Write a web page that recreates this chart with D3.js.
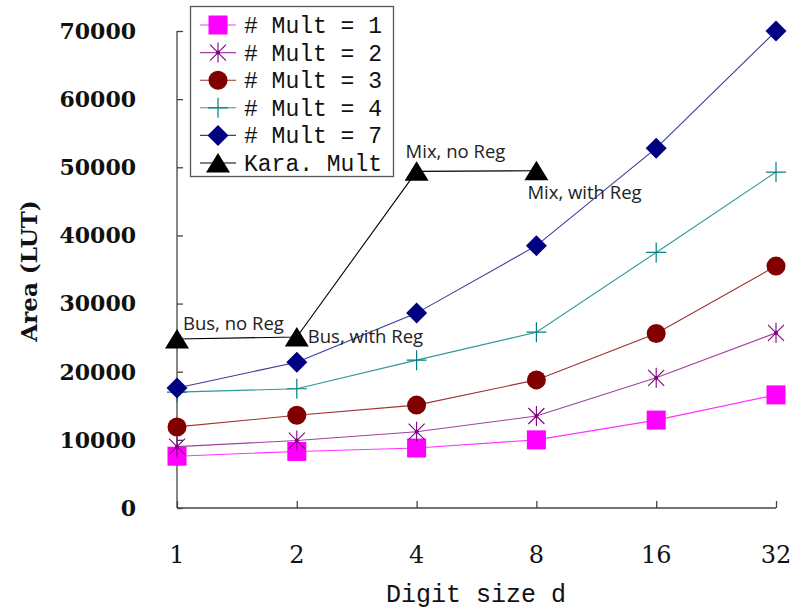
<!DOCTYPE html>
<html>
<head>
<meta charset="utf-8">
<script src="https://cdn.jsdelivr.net/npm/d3@7"></script>
<style>
  body { margin: 0; background: #fff; }
  svg { display: block; }
</style>
</head>
<body>
<script>
// categories and values
var digitSizes = ["1", "2", "4", "8", "16", "32"];
var mult1 = [7600, 8300, 8800, 10000, 12900, 16600];
var mult2 = [9000, 9900, 11200, 13500, 19100, 25700];
var mult3 = [11900, 13600, 15100, 18800, 25600, 35500];
var mult4 = [17000, 17500, 21700, 25800, 37500, 49300];
var mult7 = [17600, 21400, 28600, 38500, 52800, 70000];
var kara = [24800, 25100, 49400, 49500];
var yTicks = [0, 10000, 20000, 30000, 40000, 50000, 60000, 70000];
var karaNotes = ["Bus, no Reg", "Bus, with Reg", "Mix, no Reg", "Mix, with Reg"];

var width = 796, height = 610;

var svg = d3.select("body").append("svg")
    .attr("width", width)
    .attr("height", height);

//Scales
var xScale = d3.scalePoint().domain(digitSizes).range([177, 776]);
var yScale = d3.scaleLinear().domain([0, 70000]).range([508, 31]);

//Marker shapes
function squarePath(s) { return "M" + (-s) + "," + (-s) + "h" + 2*s + "v" + 2*s + "h" + (-2*s) + "Z"; }
function diamondPath(s) { return "M0," + (-s) + "L" + s + ",0L0," + s + "L" + (-s) + ",0Z"; }
function trianglePath(s) { return "M0," + (-s) + "L" + (s*1.2) + "," + (s*0.95) + "L" + (-s*1.2) + "," + (s*0.95) + "Z"; }

function drawMarker(g, type, color) {
    if (type === "square") {
        g.append("path").attr("d", squarePath(9.5)).attr("fill", color);
    } else if (type === "star") {
        g.append("path")
            .attr("d", "M0,-10V10M-8,-8L8,8M-8,8L8,-8")
            .attr("stroke", color).attr("stroke-width", 1.1).attr("fill", "none");
        g.append("circle").attr("r", 2).attr("fill", color);
    } else if (type === "circle") {
        g.append("circle").attr("r", 9.5).attr("fill", color);
    } else if (type === "plus") {
        g.append("path")
            .attr("d", "M0,-10V10M-10,0H10")
            .attr("stroke", color).attr("stroke-width", 1.2).attr("fill", "none");
    } else if (type === "diamond") {
        g.append("path").attr("d", diamondPath(10.5)).attr("fill", color);
    } else if (type === "triangle") {
        g.append("path").attr("d", trianglePath(10)).attr("fill", color);
    }
}

var series = [
    {name: "# Mult = 1", values: mult1, marker: "square", color: "#ff00ff", line: "#ff33ff"},
    {name: "# Mult = 2", values: mult2, marker: "star", color: "#800080", line: "#a040a0"},
    {name: "# Mult = 3", values: mult3, marker: "circle", color: "#800000", line: "#a03030"},
    {name: "# Mult = 4", values: mult4, marker: "plus", color: "#008080", line: "#309898"},
    {name: "# Mult = 7", values: mult7, marker: "diamond", color: "#000080", line: "#3a3a9a"},
    {name: "Kara. Mult", values: kara, marker: "triangle", color: "#000000", line: "#000000"}
];

//Axes
var axisColor = "#444";
var yAxis = d3.axisLeft(yScale).tickValues(yTicks).tickSize(-6).tickFormat("");
var gY = svg.append("g")
    .attr("transform", "translate(177,0)")
    .call(yAxis);
gY.select(".domain").attr("d", "M0," + yScale(70000) + "V" + yScale(0));

var xAxis = d3.axisBottom(xScale).tickSize(-7).tickFormat("");
var gX = svg.append("g")
    .attr("transform", "translate(0,508)")
    .call(xAxis);
gX.select(".domain").attr("d", "M177,0H776");

svg.selectAll(".domain, .tick line")
    .attr("stroke", axisColor)
    .attr("stroke-width", 1.3);

//Y tick labels
svg.append("g").selectAll("text")
    .data(yTicks)
    .enter().append("text")
    .attr("x", 136)
    .attr("y", function(d) { return yScale(d); })
    .attr("dy", "0.36em")
    .style("text-anchor", "end")
    .style("font-family", "'DejaVu Serif', serif")
    .style("font-weight", "bold")
    .style("font-size", "22px")
    .attr("fill", "#111")
    .text(function(d) { return d; });

//X tick labels
svg.append("g").selectAll("text")
    .data(digitSizes)
    .enter().append("text")
    .attr("x", function(d) { return xScale(d); })
    .attr("y", 563)
    .style("text-anchor", "middle")
    .style("font-family", "'DejaVu Serif', serif")
    .style("font-size", "24px")
    .attr("fill", "#111")
    .text(function(d) { return d; });

//Axis titles
svg.append("text")
    .attr("x", 476)
    .attr("y", 602)
    .style("text-anchor", "middle")
    .style("font-family", "'Liberation Mono', monospace")
    .style("font-size", "25px")
    .attr("fill", "#111")
    .text("Digit size d");

svg.append("text")
    .attr("transform", "translate(37,271) rotate(-90)")
    .style("text-anchor", "middle")
    .style("font-family", "'DejaVu Serif', serif")
    .style("font-weight", "bold")
    .style("font-size", "23px")
    .attr("fill", "#111")
    .text("Area (LUT)");

//Series lines and markers
var line = d3.line()
    .x(function(d, i) { return xScale(digitSizes[i]); })
    .y(function(d) { return yScale(d); });

series.forEach(function(s) {
    svg.append("path")
        .datum(s.values)
        .attr("d", line)
        .attr("fill", "none")
        .attr("stroke", s.line)
        .attr("stroke-width", 1.1);

    s.values.forEach(function(v, i) {
        var g = svg.append("g")
            .attr("transform", "translate(" + xScale(digitSizes[i]) + "," + yScale(v) + ")");
        drawMarker(g, s.marker, s.color);
    });
});

//Kara annotations
var noteOffsets = [[6, -9], [11, 6], [-11, -13], [-9, 28]];
svg.append("g").selectAll("text")
    .data(karaNotes)
    .enter().append("text")
    .attr("x", function(d, i) { return xScale(digitSizes[i]) + noteOffsets[i][0]; })
    .attr("y", function(d, i) { return yScale(kara[i]) + noteOffsets[i][1]; })
    .style("font-family", "'Open Sans', sans-serif")
    .style("font-size", "18.5px")
    .attr("fill", "#222")
    .text(function(d) { return d; });

//Legend
var legend = svg.append("g");
legend.append("rect")
    .attr("x", 190.5)
    .attr("y", 6.5)
    .attr("width", 203)
    .attr("height", 170)
    .attr("fill", "#fff")
    .attr("stroke", "#555")
    .attr("stroke-width", 1.3);

series.forEach(function(s, i) {
    var cy = 25 + i * 27.6;
    legend.append("line")
        .attr("x1", 200).attr("x2", 236)
        .attr("y1", cy).attr("y2", cy)
        .attr("stroke", s.line)
        .attr("stroke-width", 1.1);
    var g = legend.append("g").attr("transform", "translate(218," + cy + ")");
    drawMarker(g, s.marker, s.color);
    legend.append("text")
        .attr("x", 244)
        .attr("y", cy + 8)
        .style("font-family", "'Liberation Mono', monospace")
        .style("font-size", "23px")
        .attr("fill", "#111")
        .text(s.name);
});
</script>
</body>
</html>
